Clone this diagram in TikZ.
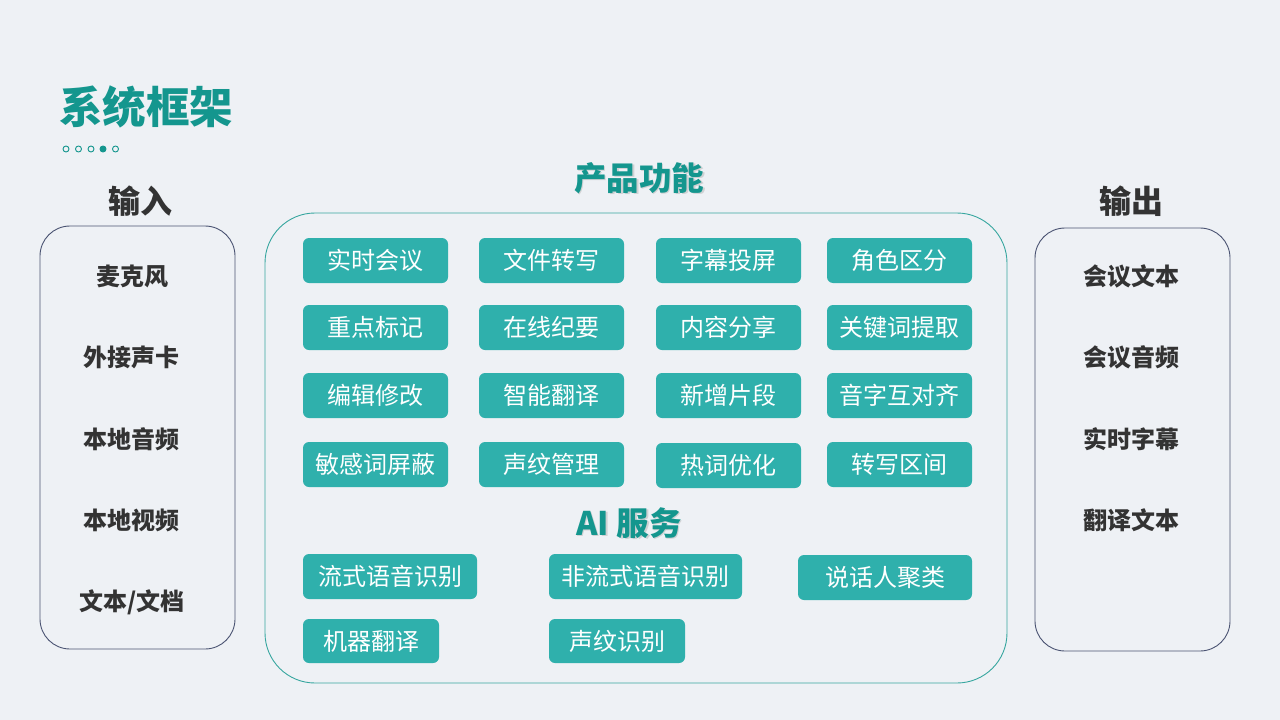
\documentclass[tikz,border=0pt]{standalone}
\usepackage{fontspec}
\setmainfont{Noto Sans CJK SC}
\definecolor{fundo}{HTML}{EEF1F5}
\definecolor{verde}{HTML}{2FB0AC}
\definecolor{titulo}{HTML}{14968E}
\definecolor{tinta}{HTML}{333333}
\definecolor{borda}{HTML}{4A5372}
\begin{document}
\begin{tikzpicture}[
    x=1pt, y=-1pt,
    every node/.style={inner sep=0pt, align=center},
    caixa/.style={rectangle, rounded corners=6pt, fill=verde, text=white, minimum width=145pt, minimum height=45pt, font=\fontsize{24}{27}\selectfont}, % blocos verdes
    bloco/.style={rectangle, rounded corners=30pt, draw=borda, line width=0.9pt, minimum width=195pt, minimum height=423pt}, % entrada / saida
    titulo/.style={text=titulo, font=\fontsize{32.5}{36}\selectfont\bfseries},
    rotulo/.style={text=tinta, font=\fontsize{24}{27}\selectfont\bfseries},
    ponto/.style={circle, draw=titulo, line width=0.9pt, minimum size=6pt}
]
\fill[fundo] (0,0) rectangle (1280,720);
\useasboundingbox (0,0) rectangle (1280,720);

% cabecalho
\node[anchor=west, text=titulo, font=\fontsize{43.5}{47}\selectfont\bfseries] (cabecalho) at (59,107) {系统框架};
\node[ponto] (p1) at (66,149) {};
\node[ponto] (p2) at (78.5,149) {};
\node[ponto] (p3) at (91,149) {};
\node[ponto, fill=titulo] (p4) at (103,149) {};
\node[ponto] (p5) at (115.5,149) {};

% entrada
\node[rotulo, font=\fontsize{32}{35}\selectfont\bfseries] (tEntrada) at (140,201) {输入};
\node[bloco] (entrada) at (137.5,437.5) {};
\node[rotulo] (e1) at (132,276) {麦克风};
\node[rotulo] (e2) at (131,357) {外接声卡};
\node[rotulo] (e3) at (131,439) {本地音频};
\node[rotulo] (e4) at (131,520) {本地视频};
\node[rotulo] (e5) at (132,602) {文本/文档};

% saida
\node[rotulo, font=\fontsize{32}{35}\selectfont\bfseries] (tSaida) at (1131,201) {输出};
\node[bloco] (saida) at (1132.5,439.5) {};
\node[rotulo] (s1) at (1131,276) {会议文本};
\node[rotulo] (s2) at (1131,357) {会议音频};
\node[rotulo] (s3) at (1131,439) {实时字幕};
\node[rotulo] (s4) at (1131,520) {翻译文本};

% produto
\node[titulo, text=black!30, opacity=0.5] (sProduto) at (640.5,179.5) {产品功能}; % sombra
\node[titulo] (tProduto) at (639,178) {产品功能};
\node[rectangle, rounded corners=50pt, draw=titulo!85, line width=0.9pt, minimum width=742pt, minimum height=470pt] (produto) at (636,448) {};

\node[caixa] (f11) at (375.5,260.5) {实时会议};
\node[caixa] (f12) at (551.5,260.5) {文件转写};
\node[caixa] (f13) at (728.5,260.5) {字幕投屏};
\node[caixa] (f14) at (899.5,260.5) {角色区分};
\node[caixa] (f21) at (375.5,327.5) {重点标记};
\node[caixa] (f22) at (551.5,327.5) {在线纪要};
\node[caixa] (f23) at (728.5,327.5) {内容分享};
\node[caixa] (f24) at (899.5,327.5) {关键词提取};
\node[caixa] (f31) at (375.5,395.5) {编辑修改};
\node[caixa] (f32) at (551.5,395.5) {智能翻译};
\node[caixa] (f33) at (728.5,395.5) {新增片段};
\node[caixa] (f34) at (899.5,395.5) {音字互对齐};
\node[caixa] (f41) at (375.5,464.5) {敏感词屏蔽};
\node[caixa] (f42) at (551.5,464.5) {声纹管理};
\node[caixa] (f43) at (728.5,465.5) {热词优化};
\node[caixa] (f44) at (899.5,464.5) {转写区间};

% servicos de IA
\node[titulo, text=black!30, opacity=0.5] (sServico) at (630.5,524.5) {AI 服务}; % sombra
\node[titulo] (tServico) at (629,523) {AI 服务};
\node[caixa, minimum width=174pt] (a1) at (390,576.5) {流式语音识别};
\node[caixa, minimum width=193pt] (a2) at (645.5,576.5) {非流式语音识别};
\node[caixa, minimum width=174pt] (a3) at (885,577.5) {说话人聚类};
\node[caixa, minimum width=136pt, minimum height=44pt] (a4) at (371,641) {机器翻译};
\node[caixa, minimum width=136pt, minimum height=44pt] (a5) at (617,641) {声纹识别};
\end{tikzpicture}
\end{document}
